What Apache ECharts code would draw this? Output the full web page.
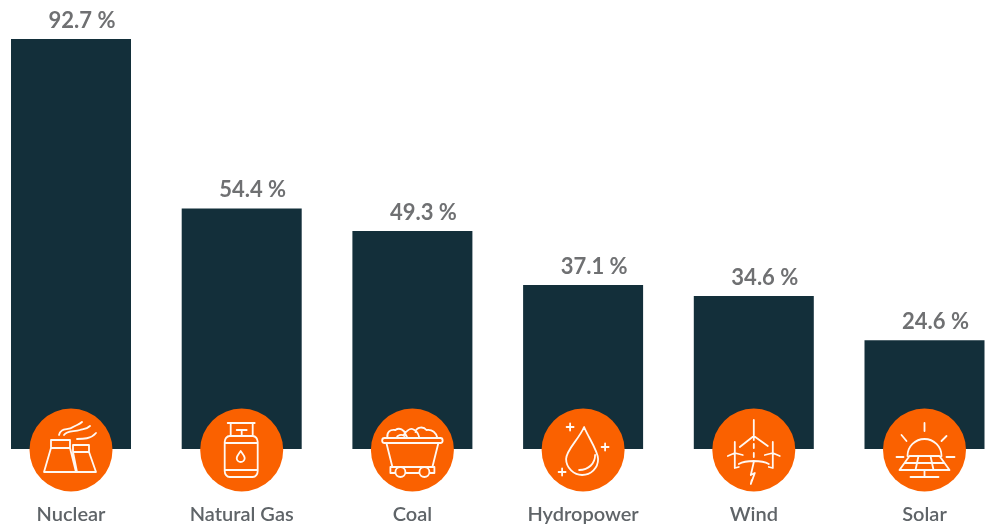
<!DOCTYPE html>
<html>
<head>
<meta charset="utf-8">
<style>html,body{margin:0;padding:0;background:#fff}#c{width:987px;height:525px}</style>
<script src="https://cdn.jsdelivr.net/npm/echarts@6/dist/echarts.min.js"></script>
</head>
<body>
<div id="c"></div>
<script>
const categories = ['Nuclear', 'Natural Gas', 'Coal', 'Hydropower', 'Wind', 'Solar'];
const shares = [92.7, 54.4, 49.3, 37.1, 34.6, 24.6];

// Decorative icon outlines, in pixels relative to each badge's centre
const icons = [
  // Nuclear
  ['M-20,-10H-1V-2H-20Z M-20,-2L-27,22H5L-1,-2 M2,-5H18V2H2Z M2,2L6,22 M18,2L25,22H5 M-12,-15C-10,-23 -3,-19 2,-23C5,-25 8,-25 11,-28 M-7,-15C-4,-20 3,-18 9,-20C13,-21 16,-21 19,-24 M6,-11C12,-11 20,-11 25,-17'],
  // Natural gas
  ['M-14,-27H13 M-11,-27V-14 M11,-27V-14 M-5,-20H5 M0,-20V-14 M-12,-14H11C14,-14 16,-11 16,-8V21C16,24 14,27 11,27H-12C-15,27 -17,24 -17,21V-8C-17,-11 -15,-14 -12,-14Z M-17,-7H16 M-17,20H16 M-1,1C-3,4 -5,6 -5,8C-5,10.500 -3,12 -1,12C1,12 3,10.500 3,8C3,6 1,4 -1,1Z'],
  // Coal
  ['M-28,-12H28C31,-12 31,-7 28,-7H-28C-31,-7 -31,-12 -28,-12Z M-26,-7L-20,17H20L26,-7 M-22,17H22V23H17 M-22,17V23H-17 M-7,23H7 M-7,22A5,5 0 1 1 -17,22A5,5 0 1 1 -7,22Z M17,22A5,5 0 1 1 7,22A5,5 0 1 1 17,22Z M-25,-12C-26,-18 -22,-21 -17,-20C-13,-23 -8,-20 -7,-16L-5,-12 M-9,-15C-6,-19 -3,-22 0,-21C3,-20 6,-17 7,-12 M3,-18C4,-23 11,-24 14,-20C20,-21 24,-17 25,-12 M-16,-12C-15,-15 -11,-16 -8,-14'],
  // Hydropower
  ['M1,-23C-4,-11 -17,0 -17,9C-17,18 -9,25 -1,25C8,25 15,18 15,9C15,1 5,-13 1,-23Z M12,5C12,13 6,20 -4,20 M-13,-26.500V-19.500 M-16.500,-23H-9.500 M22,-6.500V0.500 M18.500,-3H25.500 M-21,18.500V25.500 M-24.500,22H-17.500'],
  // Wind
  ['M0,-30V-14 M0,-14L-14,-3 M0,-14L14,-4 M0,-14V-10 M-19,-8V3 M-19,3L-26,6 M-19,3L-11,5 M-19,3L-19,18 L-15,17 M19,-8V3 M19,3L26,6 M19,3L11,5 M19,3L19,18 L15,17 M-15,14C-8,10 8,10 15,14 M0,-6V-2 M0,3V7 M0,12L-3,25 M-3,25L1,23L-3,34 L-2,30'],
  // Solar
  ['M0,-27V-19 M-23,-15L-18,-9 M22,-14L17,-9 M-28,7H-21 M22,7H30 M-17,6A17,17 0 0 1 17,6 M-15,6H15L25,20H-25Z M-20,13H20 M-6,6L-9,20 M6,6L9,20 M0,20V27 M-14,27H14']
];

const palette = { bar: '#132f3a', badge: '#fa6100', value: '#6f7072', label: '#5f6468' };
const labelFont = 'Lato, "Open Sans", sans-serif';

const chart = echarts.init(document.getElementById('c'), null, { renderer: 'canvas' });
chart.setOption({
  animation: false,
  backgroundColor: '#fff',
  grid: { left: 71, width: 853.500, top: 6.7, height: 442.3, containLabel: false },
  xAxis: {
    type: 'category',
    data: categories,
    boundaryGap: false,
    axisLine: { show: false },
    axisTick: { show: false },
    splitLine: { show: false },
    axisLabel: {
      margin: 56,
      fontFamily: labelFont,
      fontSize: 20,
      fontWeight: 600,
      color: palette.label,
      interval: 0,
      hideOverlap: false,
      showMinLabel: true,
      showMaxLabel: true
    }
  },
  yAxis: { type: 'value', min: 0, max: 100, show: false },
  series: [
    {
      type: 'bar',
      data: shares,
      barWidth: 120,
      clip: false,
      itemStyle: { color: palette.bar },
      label: {
        show: true,
        position: 'top',
        distance: 7,
        offset: [11, 0],
        formatter: p => p.value.toFixed(1) + ' %',
        fontFamily: labelFont,
        fontSize: 22,
        fontWeight: 700,
        color: palette.value
      },
      z: 2
    },
    {
      type: 'custom',
      coordinateSystem: 'cartesian2d',
      data: categories.map((c, i) => [i, 0]),
      clip: false,
      z: 5,
      silent: true,
      renderItem: (params, api) => {
        const p = api.coord([api.value(0), api.value(1)]);
        const i = params.dataIndex;
        return {
          type: 'group',
          x: p[0],
          y: p[1] + 1,
          children: [
            { type: 'circle', shape: { cx: 0, cy: 0, r: 41.5 }, style: { fill: palette.badge } },
            {
              type: 'path',
              shape: { pathData: icons[i][0] },
              style: { fill: 'none', stroke: '#fff8f2', lineWidth: 1.8, lineCap: 'round', lineJoin: 'round' }
            }
          ]
        };
      },
      encode: { x: 0, y: 1 }
    }
  ]
});
</script>
</body>
</html>
